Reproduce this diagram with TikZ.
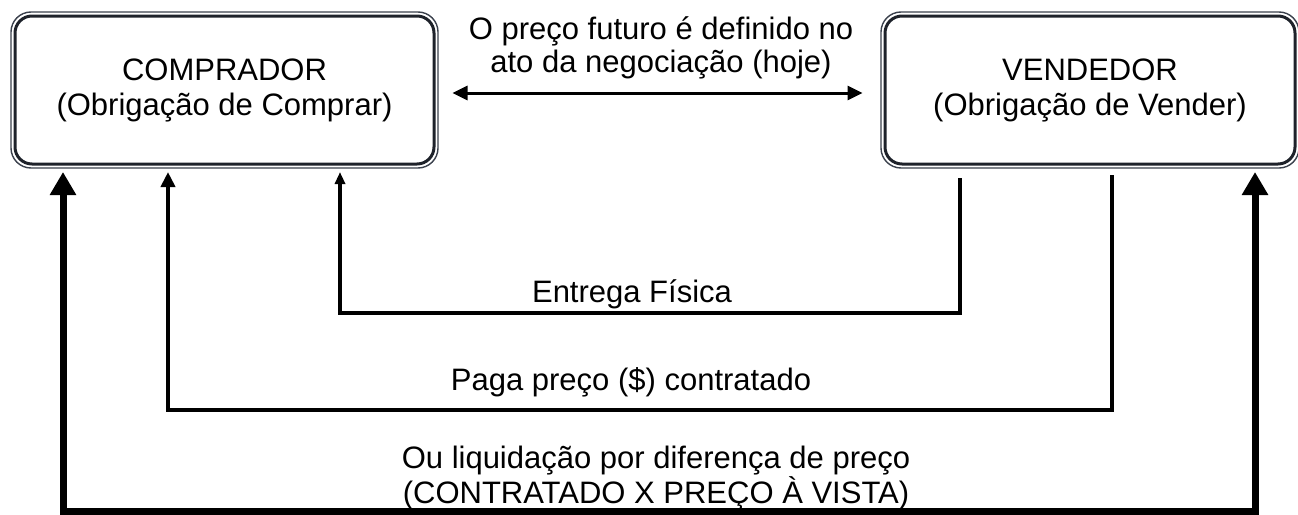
\documentclass[tikz,border=0pt]{standalone}
\usepackage{fontspec}
\setmainfont{Liberation Sans}
\usetikzlibrary{arrows.meta}
\definecolor{boxline}{HTML}{1E222A}
\definecolor{boxouter}{HTML}{3A404C}
\begin{document}
\begin{tikzpicture}[x=1pt,y=-1pt,
  party/.style={draw=boxline, line width=3pt, rounded corners=17pt, minimum width=#1, minimum height=148pt, align=center, font=\fontsize{31}{35}\selectfont, inner sep=0pt},
  frame/.style={draw=boxouter, line width=1.4pt, rounded corners=20pt},
  lbl/.style={align=center, font=\fontsize{31}{33}\selectfont, inner sep=0pt},
  bigflow/.style={draw=black, line width=7pt, line join=miter, {Triangle[length=23pt,width=25pt]}-{Triangle[length=23pt,width=25pt]}, shorten <=6.5pt, shorten >=6.5pt},
  midflow/.style={draw=black, line width=4.5pt, line join=miter, -{Triangle[length=15pt,width=14pt]}, shorten <=9.5pt, shorten >=6.5pt},
  smallflow/.style={draw=black, line width=3.5pt, line join=miter, -{Triangle[length=12pt,width=10pt]}, shorten <=12.5pt, shorten >=6.5pt},
  pricelink/.style={draw=black, line width=3pt, {Triangle[length=15pt,width=14pt]}-{Triangle[length=15pt,width=14pt]}}
]
\useasboundingbox (0,0) rectangle (1298,514);

% parties
\node[party=419pt] (buyer) at (224.5,90) {COMPRADOR\\(Obrigação de Comprar)};
\node[party=410pt] (seller) at (1090,90) {VENDEDOR\\(Obrigação de Vender)};
\draw[frame] ([shift={(-2.5pt,2.5pt)}]buyer.north west) rectangle ([shift={(2.5pt,-2.5pt)}]buyer.south east);
\draw[frame] ([shift={(-2.5pt,2.5pt)}]seller.north west) rectangle ([shift={(2.5pt,-2.5pt)}]seller.south east);

% price defined today
\node[lbl] (today) at (661,48) {O preço futuro é definido no\\ato da negociação (hoje)};
\draw[pricelink] ([shift={(17pt,-3pt)}]buyer.east) -- ([shift={(-21pt,-3pt)}]seller.west);

% corner coordinates
\coordinate (inR) at (960,313);
\coordinate (inL) at (340,313);
\coordinate (midR) at (1112,410);
\coordinate (midL) at (168,410);
\coordinate (outL) at (63,511.5);
\coordinate (outR) at (1255,511.5);

% physical delivery
\draw[smallflow] (seller.south -| inR) -- (inR) -- (inL) -- (buyer.south -| inL);
\node[lbl] (delivery) at (632,294) {Entrega Física};

% payment
\draw[midflow] (seller.south -| midR) -- (midR) -- (midL) -- (buyer.south -| midL);
\node[lbl] (payment) at (631,382) {Paga preço (\$) contratado};

% cash settlement
\draw[bigflow] (buyer.south -| outL) -- (outL) -- (outR) -- (seller.south -| outR);
\node[lbl] (settle) at (656,478) {Ou liquidação por diferença de preço\\(CONTRATADO X PREÇO À VISTA)};
\end{tikzpicture}
\end{document}
